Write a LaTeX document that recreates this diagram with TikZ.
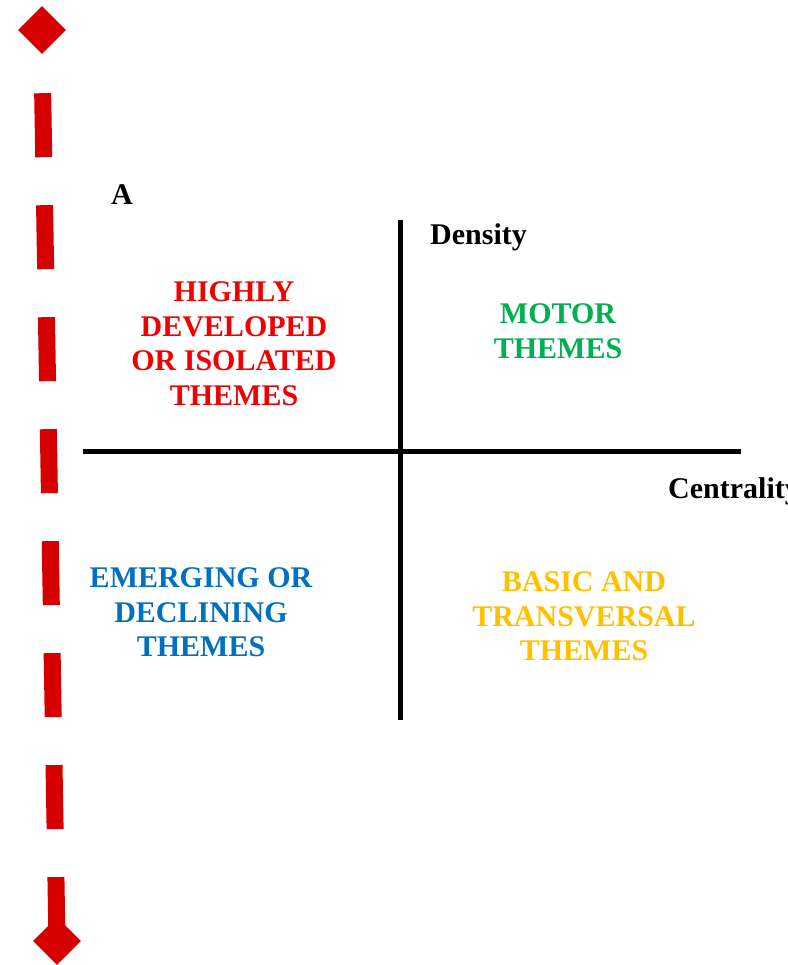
\documentclass[tikz,border=0pt]{standalone}
\usepackage{fontspec}
\setmainfont{Liberation Serif}
\usetikzlibrary{shapes.geometric}
\definecolor{arrowred}{RGB}{214,0,0}
\definecolor{thred}{RGB}{240,0,0}
\definecolor{thgreen}{RGB}{0,176,80}
\definecolor{thblue}{RGB}{0,112,192}
\definecolor{thyellow}{RGB}{255,192,0}
\tikzset{
  lbl/.style={font=\fontsize{30}{34.5}\selectfont\bfseries, inner sep=0pt},
  theme/.style={lbl, align=center},
  axis/.style={line width=5pt, black},
  tipdiamond/.style={diamond, aspect=1, fill=arrowred, inner sep=0pt, minimum width=48pt, minimum height=48pt},
  redline/.style={arrowred, line width=17pt, dash pattern=on 64pt off 48pt, dash phase=73pt}
}
\begin{document}
\begin{tikzpicture}[x=1pt,y=-1pt]
\useasboundingbox (0,0) rectangle (787,965);
% red dashed arrow
\node[tipdiamond] (top) at (42,30) {};
\node[tipdiamond] (bot) at (57,941) {};
\draw[redline] (top.south) -- (bot.center);
% axes
\coordinate (vt) at (400,220);
\coordinate (vb) at (400,720);
\coordinate (hl) at (83,451);
\coordinate (hr) at (741,451);
\draw[axis] (vt) -- (vb);
\draw[axis] (hl) -- (hr);
% labels
\node[lbl, anchor=base west] (A) at (111,205) {A};
\node[lbl, anchor=base west] (dens) at (430,245) {Density};
\node[lbl, anchor=base west] (cent) at (668,498) {Centrality};
% themes
\node[theme, text=thred] (hd) at (234,343.5) {HIGHLY\\DEVELOPED\\OR ISOLATED\\THEMES};
\node[theme, text=thgreen] (mt) at (558,331) {MOTOR\\THEMES};
\node[theme, text=thblue] (ed) at (201,612.5) {EMERGING OR\\DECLINING\\THEMES};
\node[theme, text=thyellow] (bt) at (584,616.5) {BASIC AND\\TRANSVERSAL\\THEMES};
\end{tikzpicture}
\end{document}
